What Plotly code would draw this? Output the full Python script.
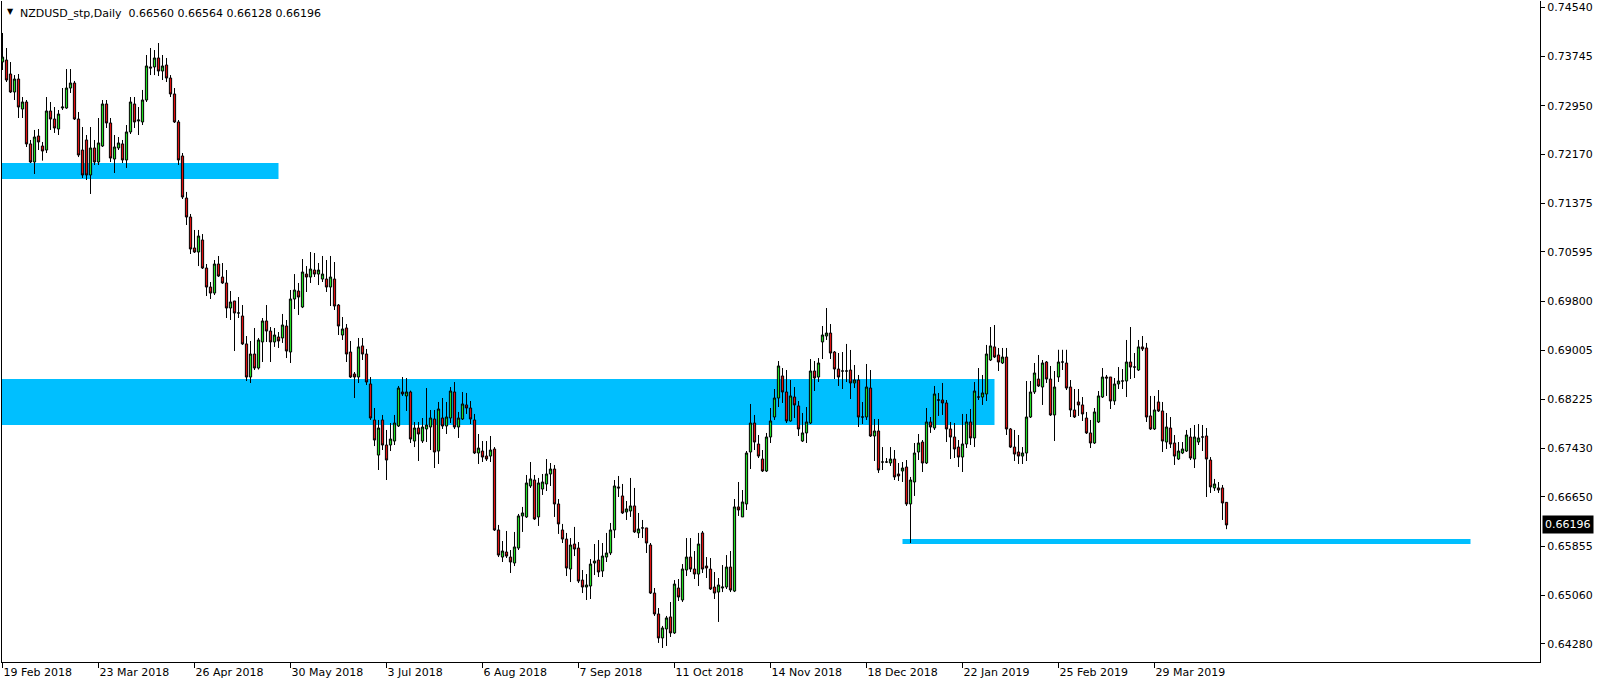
import plotly.graph_objects as go

# ---------------- data ----------------
opens = [
0.73654,0.73686,0.73461,0.73171,0.73380,0.72897,0.73010,0.72334,0.72043,0.72462,
0.72301,0.72236,0.72865,0.72736,0.72575,0.72913,0.72913,0.73235,0.73316,0.72736,
0.72236,0.72398,0.71834,0.72269,0.72043,0.72301,0.72978,0.72672,0.72091,0.72269,
0.72334,0.72076,0.72527,0.72978,0.72704,0.72688,0.73042,0.73574,0.73574,0.73719,
0.73509,0.73606,0.73396,0.73139,0.72688,0.72140,0.71463,0.71157,0.70658,0.70593,
0.70787,0.70335,0.70029,0.69932,0.70400,0.70190,0.70094,0.69691,0.69804,0.69611,
0.69562,0.69112,0.68579,0.68950,0.68724,0.69144,0.69482,0.69320,0.69144,0.69224,
0.69208,0.69401,0.68982,0.69836,0.69965,0.69707,0.70238,0.70190,0.70303,0.70238,
0.70158,0.70158,0.70029,0.70158,0.69739,0.69256,0.69369,0.68982,0.68628,0.68579,
0.69080,0.68950,0.68467,0.67887,0.67322,0.67887,0.67484,0.67484,0.67548,0.67790,
0.68338,0.68274,0.68338,0.67548,0.67758,0.67548,0.67742,0.67774,0.67903,0.67387,
0.67919,0.67790,0.67919,0.68338,0.67774,0.67903,0.68129,0.68080,0.67887,0.67355,
0.67387,0.67306,0.67306,0.67419,0.66115,0.65679,0.65760,0.65679,0.65583,0.65824,
0.66341,0.66325,0.66824,0.66920,0.66325,0.66775,0.66856,0.67017,0.67097,0.66534,
0.66115,0.65969,0.65486,0.65889,0.65824,0.65308,0.65196,0.65212,0.65583,0.65631,
0.65454,0.65679,0.65744,0.66115,0.66808,0.66663,0.66405,0.66421,0.66502,0.66067,
0.66148,0.66148,0.65873,0.65099,0.64762,0.64375,0.64520,0.64714,0.64456,0.65180,
0.64987,0.65470,0.65679,0.65486,0.65405,0.66067,0.65534,0.65486,0.65196,0.65115,
0.65180,0.65196,0.65518,0.65131,0.66486,0.66325,0.66534,0.67371,0.67838,0.67500,
0.67258,0.67065,0.67613,0.67935,0.68241,0.68596,0.68338,0.67871,0.68257,0.68113,
0.67548,0.67678,0.67838,0.68676,0.68579,0.69144,0.69240,0.69288,0.68982,0.68708,
0.68676,0.68676,0.68692,0.68483,0.68531,0.67935,0.67935,0.68402,0.67629,0.67710,
0.67210,0.67210,0.67194,0.67258,0.67017,0.67065,0.67129,0.66534,0.66888,0.67371,
0.67532,0.67194,0.67855,0.67758,0.68209,0.68209,0.68161,0.67742,0.67613,0.67451,
0.67290,0.67500,0.67855,0.67597,0.68257,0.68257,0.68306,0.68853,0.69064,0.68934,
0.68805,0.68901,0.67742,0.67451,0.67371,0.67306,0.67355,0.67935,0.68338,0.68547,
0.68418,0.68821,0.68547,0.67968,0.68579,0.68821,0.68805,0.68418,0.68048,0.68177,
0.68129,0.67919,0.67678,0.67516,0.67855,0.68257,0.68579,0.68579,0.68193,0.68467,
0.68515,0.68515,0.68821,0.68740,0.68692,0.69064,0.69047,0.67952,0.67742,0.68177,
0.68032,0.67532,0.67758,0.67516,0.67258,0.67355,0.67387,0.67613,0.67258,0.67532,
0.67613,0.67629,0.67242,0.66792,0.66792,0.66792,0.66560]
highs = [
0.74122,0.73880,0.73654,0.73444,0.73461,0.73090,0.73042,0.72398,0.72559,0.72575,
0.72366,0.73090,0.73010,0.72929,0.72881,0.73235,0.73541,0.73541,0.73349,0.72849,
0.72607,0.72478,0.72607,0.72398,0.72752,0.73042,0.73042,0.72752,0.72478,0.72446,
0.72398,0.72639,0.73090,0.73090,0.72929,0.73204,0.73767,0.73880,0.73847,0.73960,
0.73767,0.73719,0.73444,0.73235,0.72720,0.72188,0.71561,0.71206,0.70948,0.70948,
0.70883,0.70400,0.70110,0.70464,0.70529,0.70416,0.70303,0.69965,0.69804,0.69868,
0.69739,0.69240,0.69160,0.69369,0.69208,0.69530,0.69739,0.69385,0.69369,0.69304,
0.69595,0.69498,0.69981,0.70238,0.70094,0.70480,0.70367,0.70593,0.70577,0.70416,
0.70529,0.70464,0.70529,0.70432,0.69755,0.69546,0.69433,0.69160,0.68660,0.69208,
0.69208,0.69031,0.68579,0.68080,0.67887,0.67968,0.67726,0.67838,0.67968,0.68435,
0.68579,0.68563,0.68360,0.67855,0.67855,0.67919,0.68402,0.68048,0.68048,0.68177,
0.68241,0.68177,0.68418,0.68499,0.68016,0.68338,0.68322,0.68193,0.67984,0.67661,
0.67548,0.67548,0.67629,0.67451,0.66196,0.65937,0.66099,0.65792,0.66083,0.66373,
0.66486,0.67001,0.67210,0.67001,0.66953,0.67017,0.67258,0.67194,0.67162,0.66614,
0.66212,0.66067,0.65985,0.66164,0.65921,0.65470,0.65405,0.65647,0.65889,0.65953,
0.65905,0.66067,0.66228,0.66920,0.66985,0.66856,0.66582,0.66953,0.66792,0.66389,
0.66276,0.66148,0.65905,0.65180,0.64858,0.64569,0.64730,0.64955,0.65308,0.65325,
0.65566,0.65985,0.65985,0.65776,0.66067,0.66099,0.65679,0.65663,0.65438,0.65341,
0.65550,0.65711,0.65776,0.66614,0.66888,0.66759,0.67387,0.68145,0.67968,0.67645,
0.67403,0.67678,0.68080,0.68386,0.68837,0.68724,0.68692,0.68531,0.68418,0.68193,
0.68000,0.68096,0.68869,0.68837,0.68885,0.69401,0.69691,0.69433,0.68998,0.68966,
0.68982,0.69112,0.69015,0.68773,0.68612,0.68177,0.68789,0.68692,0.67903,0.67903,
0.67451,0.67274,0.67451,0.67403,0.67194,0.67210,0.67242,0.66969,0.67516,0.67661,
0.67564,0.68080,0.67935,0.68435,0.68322,0.68483,0.68209,0.67855,0.67838,0.67564,
0.67984,0.67984,0.68064,0.68499,0.68724,0.68612,0.69096,0.69385,0.69417,0.69047,
0.69047,0.69047,0.67758,0.67726,0.67645,0.67451,0.68515,0.68515,0.68805,0.68934,
0.68853,0.68837,0.68757,0.68676,0.69018,0.69018,0.69018,0.68531,0.68386,0.68386,
0.68257,0.68016,0.67887,0.68080,0.68354,0.68724,0.68612,0.68579,0.68563,0.68740,
0.68708,0.69176,0.69385,0.68966,0.69176,0.69240,0.69128,0.68274,0.68274,0.68370,
0.68177,0.68000,0.67935,0.67645,0.67532,0.67532,0.67726,0.67758,0.67806,0.67822,
0.67806,0.67758,0.67290,0.66937,0.66888,0.66840,0.66564]
lows = [
0.73525,0.73332,0.73155,0.73042,0.72752,0.72752,0.72285,0.72027,0.71850,0.72236,
0.72065,0.72188,0.72559,0.72511,0.72478,0.72881,0.72900,0.73155,0.72720,0.72123,
0.71785,0.71753,0.71528,0.71995,0.71995,0.72285,0.72591,0.72043,0.71866,0.72236,
0.72027,0.71947,0.72494,0.72591,0.72478,0.72639,0.73010,0.73444,0.73444,0.73428,
0.73364,0.73332,0.73090,0.72672,0.71995,0.71447,0.71028,0.70561,0.70577,0.70367,
0.70319,0.69884,0.69836,0.69900,0.70190,0.70080,0.69530,0.69498,0.68998,0.69530,
0.69096,0.68515,0.68483,0.68692,0.68700,0.68821,0.69144,0.68821,0.69064,0.69047,
0.69128,0.68885,0.68805,0.69675,0.69579,0.69690,0.69949,0.70094,0.70190,0.70061,
0.70110,0.69949,0.69723,0.69659,0.69256,0.69176,0.68821,0.68563,0.68241,0.68483,
0.68853,0.68450,0.67887,0.67467,0.67081,0.67403,0.66920,0.67387,0.67484,0.67774,
0.68274,0.68032,0.67516,0.67451,0.67226,0.67516,0.67532,0.67403,0.67113,0.67178,
0.67742,0.67661,0.67838,0.67742,0.67597,0.67887,0.67984,0.67822,0.67338,0.67178,
0.67210,0.67226,0.67210,0.66099,0.65679,0.65599,0.65663,0.65422,0.65534,0.65792,
0.66083,0.66309,0.66792,0.66276,0.66180,0.66679,0.66743,0.66824,0.66325,0.66051,
0.65905,0.65373,0.65276,0.65695,0.65260,0.65099,0.64987,0.65003,0.65389,0.65357,
0.65357,0.65599,0.65711,0.65985,0.66646,0.66373,0.66276,0.66325,0.66067,0.65985,
0.65985,0.65744,0.65083,0.64730,0.64295,0.64214,0.64246,0.64391,0.64440,0.64971,
0.64955,0.65373,0.65438,0.65325,0.65212,0.65422,0.65341,0.65148,0.65003,0.64633,
0.65115,0.65164,0.65115,0.65115,0.66341,0.66325,0.66437,0.67097,0.67403,0.67274,
0.67049,0.67049,0.67516,0.67887,0.68096,0.68161,0.67838,0.67860,0.67919,0.67629,
0.67532,0.67516,0.67822,0.68354,0.68499,0.68869,0.69176,0.68869,0.68547,0.68435,
0.68386,0.68499,0.68225,0.68402,0.67774,0.67822,0.67887,0.67613,0.67226,0.67033,
0.67081,0.67194,0.67146,0.66920,0.66904,0.66888,0.66502,0.65905,0.66663,0.67242,
0.67049,0.67178,0.67678,0.67726,0.67952,0.67968,0.67532,0.67258,0.67274,0.67129,
0.67049,0.67435,0.67484,0.67451,0.68209,0.68129,0.68193,0.68837,0.68885,0.68676,
0.68789,0.67645,0.67435,0.67226,0.67178,0.67178,0.67226,0.67919,0.68306,0.68418,
0.68129,0.68483,0.67952,0.67548,0.68499,0.68692,0.68370,0.67935,0.67919,0.67952,
0.67871,0.67661,0.67435,0.67500,0.67838,0.68241,0.68274,0.68064,0.68129,0.68386,
0.68386,0.68257,0.68547,0.68563,0.68676,0.68998,0.67855,0.67726,0.67726,0.68016,
0.67371,0.67419,0.67435,0.67162,0.67242,0.67338,0.67371,0.67242,0.67113,0.67484,
0.67387,0.66646,0.66711,0.66743,0.66711,0.66276,0.66128]
closes = [
0.73734,0.73364,0.73171,0.73380,0.72929,0.73010,0.72334,0.72043,0.72446,0.72366,
0.72220,0.72865,0.72736,0.72591,0.72816,0.72929,0.73235,0.73316,0.72736,0.72156,
0.71834,0.71834,0.72269,0.72043,0.72350,0.72978,0.72672,0.72107,0.72285,0.72350,
0.72076,0.72527,0.73010,0.72688,0.72720,0.73042,0.73590,0.73558,0.73719,0.73509,
0.73590,0.73396,0.73139,0.72688,0.72076,0.71479,0.71157,0.70642,0.70593,0.70851,
0.70335,0.70029,0.69932,0.70400,0.70206,0.70094,0.69691,0.69788,0.69611,0.69611,
0.69112,0.68579,0.68950,0.68724,0.69176,0.69482,0.69320,0.69144,0.69256,0.69160,
0.69417,0.68998,0.69836,0.69981,0.69868,0.70271,0.70190,0.70319,0.70238,0.70303,
0.70238,0.70029,0.70190,0.69723,0.69401,0.69353,0.68950,0.68579,0.68579,0.69064,
0.68950,0.68499,0.67919,0.67564,0.67758,0.67484,0.67242,0.67580,0.67838,0.68402,
0.68306,0.68338,0.67580,0.67758,0.67661,0.67774,0.67806,0.67919,0.67371,0.68064,
0.67790,0.67935,0.68354,0.67774,0.67919,0.68145,0.68080,0.67903,0.67355,0.67435,
0.67290,0.67258,0.67403,0.66115,0.65711,0.65776,0.65695,0.65599,0.65841,0.66341,
0.66389,0.66872,0.66937,0.66292,0.66872,0.66888,0.67017,0.67097,0.66534,0.66212,
0.65969,0.65502,0.65873,0.65808,0.65292,0.65196,0.65228,0.65566,0.65615,0.65438,
0.65695,0.65744,0.66115,0.66824,0.66792,0.66389,0.66454,0.66502,0.66083,0.66131,
0.66148,0.65905,0.65099,0.64762,0.64375,0.64536,0.64698,0.64456,0.65244,0.65035,
0.65486,0.65679,0.65486,0.65405,0.65889,0.65486,0.65502,0.65164,0.65099,0.65228,
0.65196,0.65518,0.65148,0.66486,0.66437,0.66566,0.67355,0.67838,0.67532,0.67306,
0.67065,0.67613,0.67871,0.68241,0.68757,0.68338,0.67871,0.68274,0.68129,0.67742,
0.67678,0.67855,0.68676,0.68563,0.68805,0.69256,0.69288,0.68966,0.68708,0.68579,
0.68676,0.68676,0.68483,0.68531,0.67935,0.67935,0.68418,0.67629,0.67710,0.67081,
0.67210,0.67210,0.67258,0.66969,0.66985,0.67113,0.66534,0.66920,0.67355,0.67516,
0.67194,0.67855,0.67774,0.68306,0.68209,0.68161,0.67742,0.67613,0.67419,0.67290,
0.67500,0.67855,0.67597,0.68354,0.68257,0.68322,0.68950,0.69080,0.68901,0.68821,
0.68901,0.67742,0.67451,0.67338,0.67306,0.67355,0.67935,0.68338,0.68644,0.68435,
0.68805,0.68547,0.67968,0.68418,0.68821,0.68821,0.68402,0.68048,0.67935,0.68129,
0.67984,0.67678,0.67516,0.68016,0.68274,0.68579,0.68563,0.68193,0.68467,0.68515,
0.68515,0.68821,0.68740,0.68740,0.69064,0.69031,0.67935,0.67742,0.68048,0.68032,
0.67548,0.67774,0.67500,0.67306,0.67387,0.67419,0.67645,0.67274,0.67613,0.67597,
0.67613,0.67258,0.66808,0.66856,0.66759,0.66550,0.66196]

# date labels on the time axis (one every 24 daily bars, starting with bar 0)
date_labels = ["19 Feb 2018", "23 Mar 2018", "26 Apr 2018", "30 May 2018", "3 Jul 2018",
               "6 Aug 2018", "7 Sep 2018", "11 Oct 2018", "14 Nov 2018", "18 Dec 2018",
               "22 Jan 2019", "25 Feb 2019", "29 Mar 2019"]
date_label_bars = [0, 24, 48, 72, 96, 120, 144, 168, 192, 216, 240, 264, 288]

# price scale labels
price_ticks = [0.74540, 0.73745, 0.72950, 0.72170, 0.71375, 0.70595, 0.69800,
               0.69005, 0.68225, 0.67430, 0.66650, 0.65855, 0.65060, 0.64280]

# supply / demand zones drawn on the chart: (start bar, end bar, low price, high price)
zone_upper = (None, 69, 0.71769, 0.72027)
zone_middle = (None, 248, 0.67806, 0.68547)
support_line = (225, 367, 0.65890, 0.65970)

symbol = "NZDUSD_stp,Daily"
last_ohlc = (0.66560, 0.66564, 0.66128, 0.66196)

# ---------------- figure ----------------
n = len(closes)
xs = list(range(n))
X_MIN, X_MAX = -0.125, 384.375
Y_MIN, Y_MAX = 0.63988, 0.74637

FONT = "DejaVu Sans"
ZONE_COLOR = "#00BFFF"

fig = go.Figure()
fig.add_trace(go.Candlestick(
    x=xs, open=opens, high=highs, low=lows, close=closes,
    increasing=dict(line=dict(color="black", width=1), fillcolor="#22DD22"),
    decreasing=dict(line=dict(color="black", width=1), fillcolor="#E01010"),
    whiskerwidth=0, showlegend=False, hoverinfo="x+y",
))

shapes = []
for z in (zone_upper, zone_middle, support_line):
    x0 = X_MIN if z[0] is None else z[0]
    shapes.append(dict(type="rect", xref="x", yref="y", x0=x0, x1=z[1], y0=z[2], y1=z[3],
                       fillcolor=ZONE_COLOR, line=dict(width=0), layer="below"))

annotations = [
    dict(xref="paper", yref="paper", x=0, y=1, xanchor="left", yanchor="top",
         xshift=3, yshift=-4, text="▼", showarrow=False,
         font=dict(family=FONT, size=8, color="black")),
    dict(xref="paper", yref="paper", x=0, y=1, xanchor="left", yanchor="top",
         xshift=16, yshift=-4, showarrow=False,
         text=symbol + "\u00a0\u00a0" + " ".join(f"{v:.5f}" for v in last_ohlc),
         font=dict(family=FONT, size=11, color="black")),
    dict(xref="paper", yref="y", x=1, y=closes[-1], xanchor="left", yanchor="middle",
         xshift=2, showarrow=False, text=f"{closes[-1]:.5f}", bgcolor="black",
         borderpad=2, font=dict(family=FONT, size=11, color="white")),
]

fig.update_layout(
    width=1604, height=687,
    margin=dict(l=2, r=64, t=1, b=25),
    paper_bgcolor="white", plot_bgcolor="white",
    font=dict(family=FONT, size=11, color="black"),
    boxgap=0.2,
    shapes=shapes, annotations=annotations,
    showlegend=False,
    xaxis=dict(
        range=[X_MIN, X_MAX], rangeslider=dict(visible=False),
        tickvals=date_label_bars, ticktext=date_labels,
        ticks="outside", ticklen=5, tickcolor="black", tickwidth=1,
        ticklabelposition="outside right",
        showline=True, linecolor="black", linewidth=1,
        showgrid=False, zeroline=False, fixedrange=True,
    ),
    yaxis=dict(
        range=[Y_MIN, Y_MAX], side="right",
        tickvals=price_ticks, ticktext=[f"{v:.5f}" for v in price_ticks],
        ticks="outside", ticklen=4, tickcolor="black", tickwidth=1,
        showline=True, linecolor="black", linewidth=1, mirror=True,
        showgrid=False, zeroline=False, fixedrange=True,
    ),
)

fig.write_html("out.html", config={"displayModeBar": False},
               post_script="document.body.style.margin='0';document.body.style.overflow='hidden';")
